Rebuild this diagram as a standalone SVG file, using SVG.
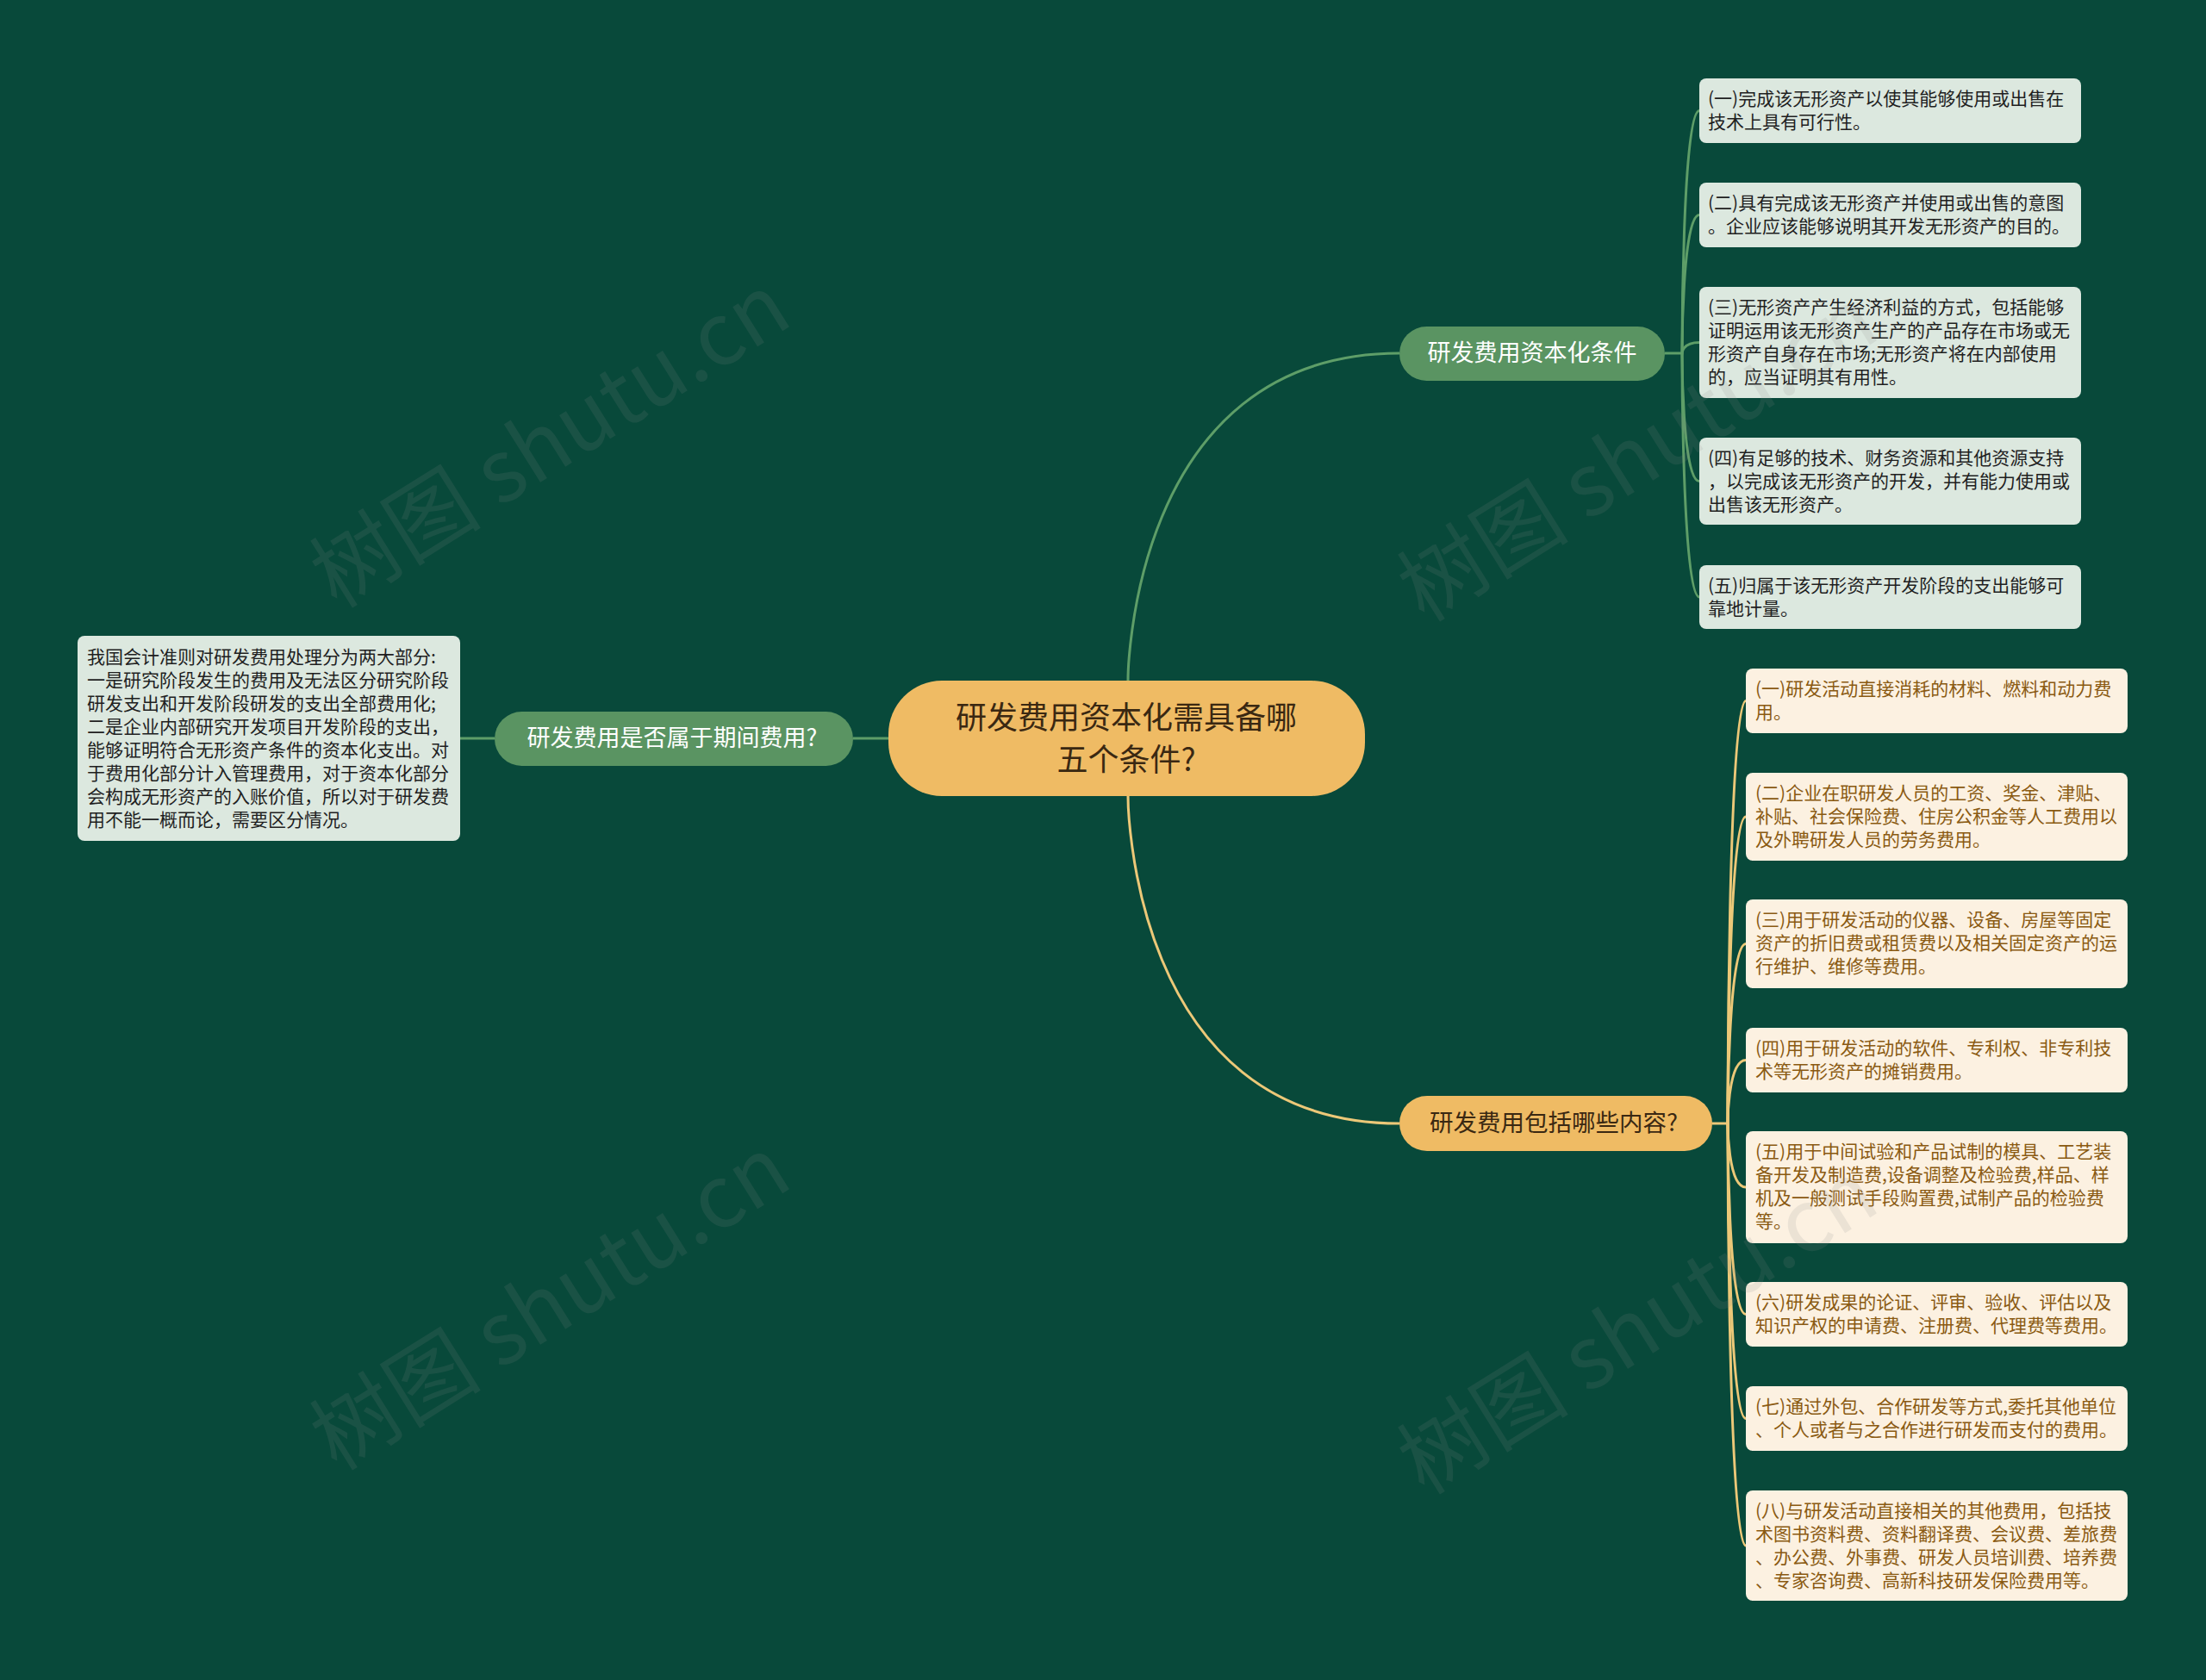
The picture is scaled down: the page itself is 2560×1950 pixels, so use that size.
<svg xmlns="http://www.w3.org/2000/svg" width="2560" height="1950" viewBox="0 0 2560 1950">
<style>
text{font-family:"Noto Sans CJK SC","Noto Sans",sans-serif;}
.gc{fill:none;stroke:#5e9e68;stroke-width:3;}
.yc{fill:none;stroke:#ecc878;stroke-width:3;}
.gbox{fill:#dce8df;}
.gt{font-size:21px;fill:#1f1f1f;}
.ybox{fill:#fcf1e1;}
.yt{font-size:21px;fill:#8a5a12;}
.wm{font-size:100px;fill:#8a8a8a;opacity:0.14;font-family:"Noto Sans CJK SC","Liberation Sans",sans-serif;}
</style>
<rect width="2560" height="1950" fill="#08493a"/>
<g id="connectors">
<path class="gc" d="M534,857 L574,857"/>
<path class="gc" d="M990,857 L1031,857"/>
<path class="gc" d="M1309,790 C1309,790 1309,410 1624,410"/>
<path class="yc" d="M1309,924 C1309,924 1309,1304 1624,1304"/>
<path class="gc" d="M1932,410 L1952,410 C1952,410 1952,128.5 1972,128.5"/>
<path class="gc" d="M1952,410 C1952,410 1952,249.5 1972,249.5"/>
<path class="gc" d="M1952,410 C1952,410 1952,397.5 1972,397.5"/>
<path class="gc" d="M1952,410 C1952,410 1952,558.5 1972,558.5"/>
<path class="gc" d="M1952,410 C1952,410 1952,693 1972,693"/>
<path class="yc" d="M1987,1304 L2005,1304 C2005,1304 2005,813.5 2026,813.5"/>
<path class="yc" d="M2005,1304 C2005,1304 2005,948 2026,948"/>
<path class="yc" d="M2005,1304 C2005,1304 2005,1095.5 2026,1095.5"/>
<path class="yc" d="M2005,1304 C2005,1304 2005,1230.5 2026,1230.5"/>
<path class="yc" d="M2005,1304 C2005,1304 2005,1378 2026,1378"/>
<path class="yc" d="M2005,1304 C2005,1304 2005,1525.5 2026,1525.5"/>
<path class="yc" d="M2005,1304 C2005,1304 2005,1646.5 2026,1646.5"/>
<path class="yc" d="M2005,1304 C2005,1304 2005,1794 2026,1794"/>
</g>
<g id="root">
<rect x="1031" y="790" width="553" height="134" rx="62" fill="#efbb64"/>
<text x="1307" y="846" font-size="36" fill="#3a2812" text-anchor="middle">研发费用资本化需具备哪</text>
<text x="1307" y="895" font-size="36" fill="#3a2812" text-anchor="middle">五个条件?</text>
</g>
<g id="branch-left">
<rect x="574" y="826" width="416" height="63" rx="31.5" fill="#5a9462"/>
<text x="780" y="866" font-size="27" fill="#ffffff" text-anchor="middle">研发费用是否属于期间费用?</text>
</g>
<g id="left-note">
<rect x="90" y="738" width="444" height="238" rx="8" class="gbox"/>
<text class="gt"><tspan x="101" y="769.5">我国会计准则对研发费用处理分为两大部分:</tspan><tspan x="101" y="796.5">一是研究阶段发生的费用及无法区分研究阶段</tspan><tspan x="101" y="823.5">研发支出和开发阶段研发的支出全部费用化;</tspan><tspan x="101" y="850.5">二是企业内部研究开发项目开发阶段的支出，</tspan><tspan x="101" y="877.5">能够证明符合无形资产条件的资本化支出。对</tspan><tspan x="101" y="904.5">于费用化部分计入管理费用，对于资本化部分</tspan><tspan x="101" y="931.5">会构成无形资产的入账价值，所以对于研发费</tspan><tspan x="101" y="958.5">用不能一概而论，需要区分情况。</tspan></text>
</g>
<g id="branch-capital">
<rect x="1624" y="379" width="308" height="63" rx="31.5" fill="#5a9462"/>
<text x="1778" y="419" font-size="27" fill="#ffffff" text-anchor="middle">研发费用资本化条件</text>
</g>
<g id="cap-1">
<rect x="1972" y="91" width="443" height="75" rx="8" class="gbox"/>
<text class="gt"><tspan x="1982" y="121.5">(一)完成该无形资产以使其能够使用或出售在</tspan><tspan x="1982" y="148.5">技术上具有可行性。</tspan></text>
</g>
<g id="cap-2">
<rect x="1972" y="212" width="443" height="75" rx="8" class="gbox"/>
<text class="gt"><tspan x="1982" y="242.5">(二)具有完成该无形资产并使用或出售的意图</tspan><tspan x="1982" y="269.5">。企业应该能够说明其开发无形资产的目的。</tspan></text>
</g>
<g id="cap-3">
<rect x="1972" y="333" width="443" height="129" rx="8" class="gbox"/>
<text class="gt"><tspan x="1982" y="363.5">(三)无形资产产生经济利益的方式，包括能够</tspan><tspan x="1982" y="390.5">证明运用该无形资产生产的产品存在市场或无</tspan><tspan x="1982" y="417.5">形资产自身存在市场;无形资产将在内部使用</tspan><tspan x="1982" y="444.5">的，应当证明其有用性。</tspan></text>
</g>
<g id="cap-4">
<rect x="1972" y="508" width="443" height="101" rx="8" class="gbox"/>
<text class="gt"><tspan x="1982" y="538.5">(四)有足够的技术、财务资源和其他资源支持</tspan><tspan x="1982" y="565.5">，以完成该无形资产的开发，并有能力使用或</tspan><tspan x="1982" y="592.5">出售该无形资产。</tspan></text>
</g>
<g id="cap-5">
<rect x="1972" y="656" width="443" height="74" rx="8" class="gbox"/>
<text class="gt"><tspan x="1982" y="686.5">(五)归属于该无形资产开发阶段的支出能够可</tspan><tspan x="1982" y="713.5">靠地计量。</tspan></text>
</g>
<g id="branch-content">
<rect x="1624" y="1272" width="363" height="64" rx="32" fill="#efbb64"/>
<text x="1803" y="1313" font-size="27.5" fill="#3a2812" text-anchor="middle">研发费用包括哪些内容?</text>
</g>
<g id="con-1">
<rect x="2026" y="776" width="443" height="75" rx="8" class="ybox"/>
<text class="yt"><tspan x="2037" y="806.5">(一)研发活动直接消耗的材料、燃料和动力费</tspan><tspan x="2037" y="833.5">用。</tspan></text>
</g>
<g id="con-2">
<rect x="2026" y="897" width="443" height="102" rx="8" class="ybox"/>
<text class="yt"><tspan x="2037" y="927.5">(二)企业在职研发人员的工资、奖金、津贴、</tspan><tspan x="2037" y="954.5">补贴、社会保险费、住房公积金等人工费用以</tspan><tspan x="2037" y="981.5">及外聘研发人员的劳务费用。</tspan></text>
</g>
<g id="con-3">
<rect x="2026" y="1044" width="443" height="103" rx="8" class="ybox"/>
<text class="yt"><tspan x="2037" y="1074.5">(三)用于研发活动的仪器、设备、房屋等固定</tspan><tspan x="2037" y="1101.5">资产的折旧费或租赁费以及相关固定资产的运</tspan><tspan x="2037" y="1128.5">行维护、维修等费用。</tspan></text>
</g>
<g id="con-4">
<rect x="2026" y="1193" width="443" height="75" rx="8" class="ybox"/>
<text class="yt"><tspan x="2037" y="1223.5">(四)用于研发活动的软件、专利权、非专利技</tspan><tspan x="2037" y="1250.5">术等无形资产的摊销费用。</tspan></text>
</g>
<g id="con-5">
<rect x="2026" y="1313" width="443" height="130" rx="8" class="ybox"/>
<text class="yt"><tspan x="2037" y="1343.5">(五)用于中间试验和产品试制的模具、工艺装</tspan><tspan x="2037" y="1370.5">备开发及制造费,设备调整及检验费,样品、样</tspan><tspan x="2037" y="1397.5">机及一般测试手段购置费,试制产品的检验费</tspan><tspan x="2037" y="1424.5">等。</tspan></text>
</g>
<g id="con-6">
<rect x="2026" y="1488" width="443" height="75" rx="8" class="ybox"/>
<text class="yt"><tspan x="2037" y="1518.5">(六)研发成果的论证、评审、验收、评估以及</tspan><tspan x="2037" y="1545.5">知识产权的申请费、注册费、代理费等费用。</tspan></text>
</g>
<g id="con-7">
<rect x="2026" y="1609" width="443" height="75" rx="8" class="ybox"/>
<text class="yt"><tspan x="2037" y="1639.5">(七)通过外包、合作研发等方式,委托其他单位</tspan><tspan x="2037" y="1666.5">、个人或者与之合作进行研发而支付的费用。</tspan></text>
</g>
<g id="con-8">
<rect x="2026" y="1730" width="443" height="128" rx="8" class="ybox"/>
<text class="yt"><tspan x="2037" y="1760.5">(八)与研发活动直接相关的其他费用，包括技</tspan><tspan x="2037" y="1787.5">术图书资料费、资料翻译费、会议费、差旅费</tspan><tspan x="2037" y="1814.5">、办公费、外事费、研发人员培训费、培养费</tspan><tspan x="2037" y="1841.5">、专家咨询费、高新科技研发保险费用等。</tspan></text>
</g>
<g id="watermarks">
<text class="wm" x="640" y="546" text-anchor="middle" transform="rotate(-32 640 514)">树图 shutu.cn</text>
<text class="wm" x="1902" y="562" text-anchor="middle" transform="rotate(-32 1902 530)">树图 shutu.cn</text>
<text class="wm" x="640" y="1547" text-anchor="middle" transform="rotate(-32 640 1515)">树图 shutu.cn</text>
<text class="wm" x="1902" y="1575" text-anchor="middle" transform="rotate(-32 1902 1543)">树图 shutu.cn</text>
</g>
</svg>
